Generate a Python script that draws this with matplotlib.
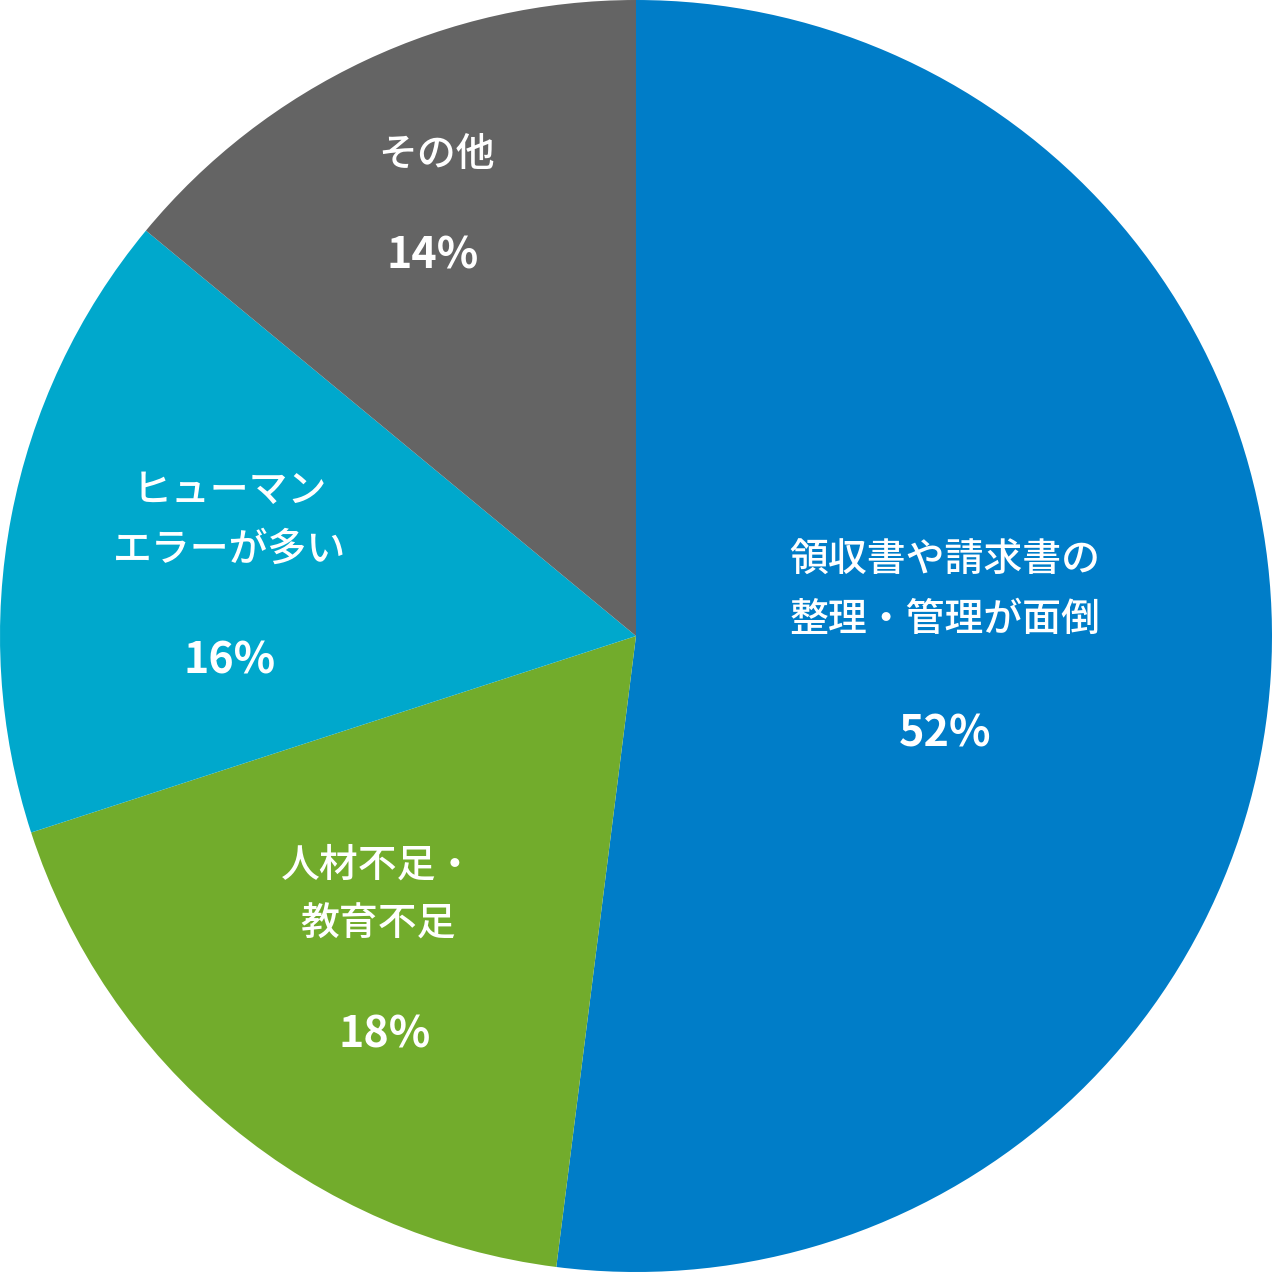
import matplotlib
matplotlib.use("Agg")
import matplotlib.pyplot as plt

plt.rcParams['font.family'] = ['Noto Sans CJK JP', 'DejaVu Sans']

labels = ['領収書や請求書の\n整理・管理が面倒', '人材不足・\n教育不足', 'ヒューマン\nエラーが多い', 'その他']
values = [52, 18, 16, 14]
colors = ['#007DC8', '#72AC2C', '#00A8CC', '#646464']
# label anchor (x, y) and percent y, in pie radius units
label_pos = [(0.486, 0.072), (-0.406, -0.407), (-0.639, 0.182), (-0.313, 0.756)]
pct_pos = [(0.486, -0.153), (-0.395, -0.627), (-0.639, -0.038), (-0.319, 0.599)]

fig = plt.figure(figsize=(12.72, 12.72), dpi=100)
ax = fig.add_axes([0, 0, 1, 1])
ax.pie(values, colors=colors, startangle=90, counterclock=False, radius=1,
       wedgeprops=dict(linewidth=0))
ax.set_xlim(-1, 1)
ax.set_ylim(-1, 1)
ax.set_aspect('equal')
ax.axis('off')

for lab, v, (lx, ly), (px, py) in zip(labels, values, label_pos, pct_pos):
    ax.text(lx, ly, lab, ha='center', va='center', color='white', fontsize=28,
            fontweight='medium', linespacing=1.6)
    ax.text(px, py, f'{v}%', ha='center', va='center', color='white', fontsize=31,
            fontweight='bold')

fig.savefig('out.png', dpi=100, transparent=True)
